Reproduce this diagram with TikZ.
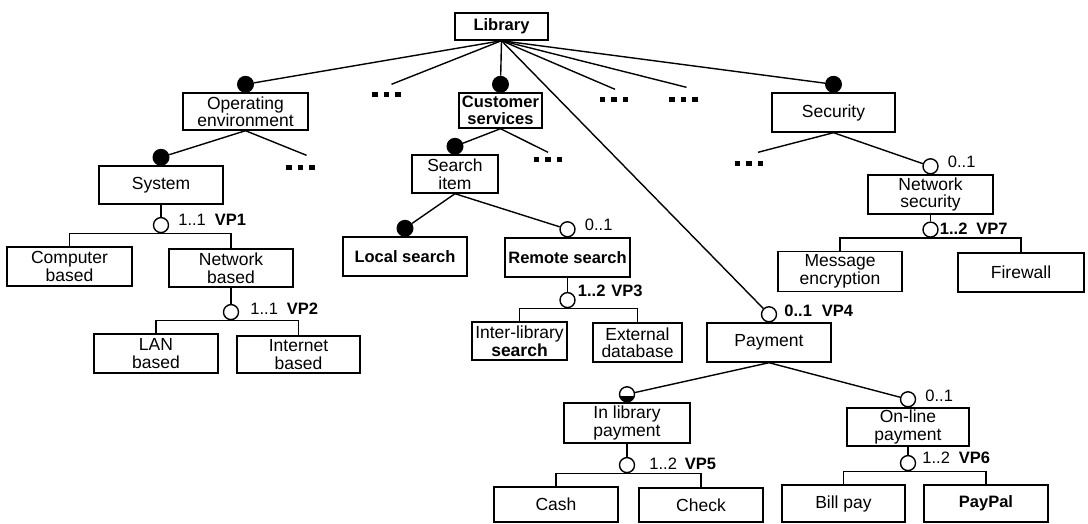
\documentclass[tikz,border=0pt]{standalone}
\usepackage{fontspec}
\setmainfont{Liberation Sans}
\usetikzlibrary{positioning}

\newcommand{\moredots}{\rule{5.5pt}{5pt}\hspace{6pt}\rule{5.5pt}{5pt}\hspace{6pt}\rule{5.5pt}{5pt}}

\begin{document}
\begin{tikzpicture}[x=1pt,y=-1pt,
	feat/.style={draw, line width=1.4pt, inner sep=0pt, minimum width=124pt, minimum height=38pt,
		align=center, font=\fontsize{17.5}{17.5}\selectfont},
	featb/.style={feat, font=\fontsize{16.5}{17.5}\selectfont\bfseries},
	mandc/.style={circle, fill=black, inner sep=0pt, minimum size=17pt},
	optc/.style={circle, draw, fill=white, line width=1.4pt, inner sep=0pt, minimum size=15pt},
	halfopt/.style={optc, path picture={\fill[black] ([yshift=-2pt]path picture bounding box.west) rectangle (path picture bounding box.south east);}},
	card/.style={anchor=west, inner sep=0pt, font=\fontsize{16.5}{17}\selectfont},
	ell/.style={inner sep=0pt},
	link/.style={line width=1.4pt}
	]
	\useasboundingbox (0,0) rectangle (1088,523);
	
	% features
	\node[featb, minimum width=93pt, minimum height=27pt] (lib) at (501.5,26.5) {Library};
	\node[feat, minimum width=125pt, minimum height=37pt] (oe) at (245.5,111.5) {Operating\\environment};
	\node[featb, minimum width=83pt, minimum height=35pt] (cs) at (500.5,110.5) {Customer\\services};
	\node[feat, minimum width=123pt, minimum height=39pt] (sec) at (833.5,112.5) {Security};
	\node[feat] (sys) at (161,185) {System};
	\node[feat, minimum width=86pt] (si) at (455,174) {Search\\item};
	\node[feat, minimum width=125pt, minimum height=39pt] (ns) at (930.5,194.5) {Network\\security};
	\node[feat, minimum width=125pt, minimum height=39pt] (cb) at (69.5,266.5) {Computer\\based};
	\node[feat] (nb) at (231,268) {Network\\based};
	\node[featb, minimum height=39pt] (ls) at (405,256.5) {Local search};
	\node[featb, minimum width=125pt, minimum height=39pt] (rs) at (567.5,257.5) {Remote search};
	\node[feat, minimum height=40pt] (me) at (840,271.5) {Message\\encryption};
	\node[feat, minimum width=126pt, minimum height=39pt] (fw) at (1021,272.5) {Firewall};
	\node[feat, minimum height=39pt] (lan) at (156,353.5) {LAN\\based};
	\node[feat, minimum width=123pt, minimum height=37pt] (inb) at (298.5,354.5) {Internet\\based};
	\node[feat, minimum width=95pt] (ils) at (519.5,341) {Inter-library\\\textbf{search}};
	\node[feat, minimum width=89pt, minimum height=39pt] (ext) at (637.5,342.5) {External\\database};
	\node[feat, minimum height=39pt] (pay) at (769,342.5) {Payment};
	\node[feat, minimum width=126pt, minimum height=40pt] (ilp) at (627,423) {In library\\payment};
	\node[feat, minimum width=122pt] (olp) at (908,427) {On-line\\payment};
	\node[feat, minimum height=35pt] (cash) at (556,504.5) {Cash};
	\node[feat, minimum height=34pt] (chk) at (701,505) {Check};
	\node[feat, minimum width=123pt, minimum height=37pt] (bill) at (843.5,503.5) {Bill pay};
	\node[featb, minimum height=37pt] (pp) at (986,503.5) {PayPal};
	
	% mandatory and optional marks
	\node[mandc] (oed) at ([yshift=8pt]oe.north) {};
	\node[mandc] (csd) at ([yshift=8pt]cs.north) {};
	\node[mandc] (secd) at ([yshift=8pt]sec.north) {};
	\node[mandc] (sysd) at ([yshift=8pt]sys.north) {};
	\node[mandc] (sid) at ([yshift=8pt]si.north) {};
	\node[mandc] (lsd) at ([yshift=8pt]ls.north) {};
	\node[optc] (rsc) at ([yshift=8pt]rs.north) {};
	\node[optc] (nsc) at ([yshift=8pt]ns.north) {};
	\node[optc] (payc) at ([yshift=8pt]pay.north) {};
	\node[optc] (olpc) at ([yshift=8pt]olp.north) {};
	\node[halfopt] (ilpc) at ([yshift=8pt]ilp.north) {};
	
	\node[card] (rsl) at ([xshift=9pt,yshift=4pt]rsc.east) {0..1};
	\node[card] (nsl) at ([xshift=9pt,yshift=4pt]nsc.east) {0..1};
	\node[card] (payl) at ([xshift=7pt,yshift=3pt]payc.east) {\textbf{0..1}\hspace{10pt}\textbf{VP4}};
	\node[card] (olpl) at ([xshift=9pt,yshift=3pt]olpc.east) {0..1};
	
	% elided features
	\node[ell] (e1) at (386.5,94) {\moredots};
	\node[ell] (e2) at (614,99) {\moredots};
	\node[ell] (e3) at (683.5,99) {\moredots};
	\node[ell] (e4) at (300.5,167) {\moredots};
	\node[ell] (e5) at (548,159) {\moredots};
	\node[ell] (e6) at (749,163) {\moredots};
	
	\draw[link] (lib.south) -- (oed);
	\draw[link] (lib.south) -- ([xshift=5pt,yshift=7pt]e1.north);
	\draw[link] (lib.south) -- (csd);
	\draw[link] (lib.south) -- (payc);
	\draw[link] (lib.south) -- ([xshift=1pt,yshift=7pt]e2.north);
	\draw[link] (lib.south) -- ([xshift=3pt,yshift=9pt]e3.north);
	\draw[link] (lib.south) -- (secd);
	\draw[link] (oe.south) -- (sysd);
	\draw[link] (oe.south) -- ([xshift=6pt,yshift=9pt]e4.north);
	\draw[link] (cs.south) -- (sid);
	\draw[link] (cs.south) -- ([yshift=4pt]e5.north);
	\draw[link] (si.south) -- (lsd);
	\draw[link] (si.south) -- (rsc);
	\draw[link] (sec.south) -- ([xshift=9pt,yshift=8pt]e6.north);
	\draw[link] (sec.south) -- (nsc);
	\draw[link] (pay.south) -- (ilpc);
	\draw[link] (pay.south) -- (olpc);
	
	% variation points
	\path (cb.north) ++(0,-13) coordinate (bar1);
	\node[optc, anchor=south] (vp1) at (bar1 -| sys.south) {};
	\node[card] (vp1l) at ([xshift=9pt,yshift=5pt]vp1.east) {1..1\hspace{9pt}\textbf{VP1}};
	\draw[link] (sys.south) -- (vp1.north);
	\draw[link] (cb.north) |- (vp1.south) -| (nb.north);
	
	\path (lan.north) ++(0,-13) coordinate (bar2);
	\node[optc, anchor=south] (vp2) at (bar2 -| nb.south) {};
	\node[card] (vp2l) at ([xshift=11pt,yshift=3pt]vp2.east) {1..1\hspace{9pt}\textbf{VP2}};
	\draw[link] (nb.south) -- (vp2.north);
	\draw[link] (lan.north) |- (vp2.south) -| (inb.north);
	
	\path (ils.north) ++(0,-13) coordinate (bar3);
	\node[optc, anchor=south] (vp3) at (bar3 -| rs.south) {};
	\node[card] (vp3l) at ([xshift=2pt,yshift=9pt]vp3.east) {\textbf{1..2}\hspace{6pt}\textbf{VP3}};
	\draw[link] (rs.south) -- (vp3.north);
	\draw[link] (ils.north) |- (vp3.south) -| (ext.north);
	
	\path (me.north) ++(0,-13) coordinate (bar7);
	\node[optc, anchor=south] (vp7) at (bar7 -| ns.south) {};
	\node[card] (vp7l) at ([xshift=1pt,yshift=1pt]vp7.east) {\textbf{1..2}\hspace{9pt}\textbf{VP7}};
	\draw[link] (ns.south) -- (vp7.north);
	\draw[link] (me.north) |- (vp7.south) -| (fw.north);
	
	\path (cash.north) ++(0,-13) coordinate (bar5);
	\node[optc, anchor=south] (vp5) at (bar5 -| ilp.south) {};
	\node[card] (vp5l) at ([xshift=14pt,yshift=1pt]vp5.east) {1..2\hspace{8pt}\textbf{VP5}};
	\draw[link] (ilp.south) -- (vp5.north);
	\draw[link] (cash.north) |- (vp5.south) -| (chk.north);
	
	\path (bill.north) ++(0,-13) coordinate (bar6);
	\node[optc, anchor=south] (vp6) at (bar6 -| olp.south) {};
	\node[card] (vp6l) at ([xshift=6pt,yshift=5pt]vp6.east) {1..2\hspace{9pt}\textbf{VP6}};
	\draw[link] (olp.south) -- (vp6.north);
	\draw[link] (bill.north) |- (vp6.south) -| (pp.north);
	
\end{tikzpicture}
\end{document}
